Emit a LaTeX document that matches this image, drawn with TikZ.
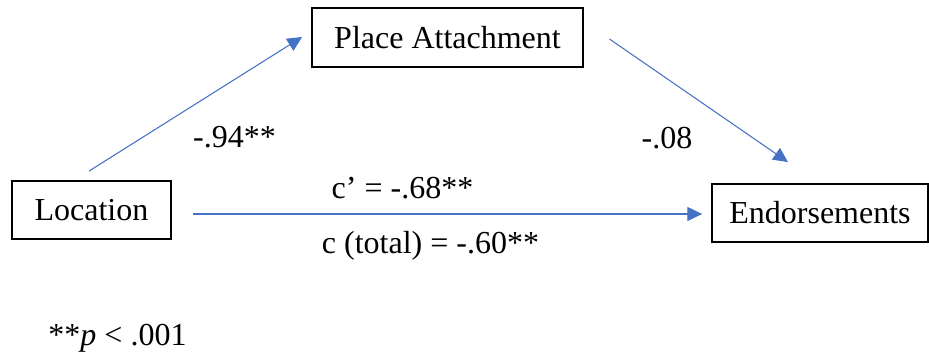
\documentclass[tikz,border=0pt]{standalone}
\usepackage{fontspec}
\setmainfont{Liberation Serif}
\usepackage{xcolor}
\usepackage{tikz}
\usetikzlibrary{arrows.meta,calc}
\definecolor{blu}{RGB}{68,114,196}

\begin{document}
\begin{tikzpicture}[x=0.75pt, y=-0.75pt, >={Triangle[length=11pt,width=10.5pt]},
  every node/.style={font=\fontsize{24}{29}\selectfont},
  box/.style={draw, line width=1.4pt, text height=15.8pt, text depth=0pt,
    inner sep=0pt, minimum height=43.5pt},
  effetto/.style={->, draw=blu, line width=0.8pt}]

% Bordo
\useasboundingbox (0,0) rectangle (929,358);

% Variabili
\node[box, minimum width=119.25pt] (loc) at (91.5,210) {Location};
\node[box, minimum width=203.25pt, minimum height=44.25pt] (place) at (447.5,37.5) {Place Attachment};
\node[box, minimum width=162pt] (endo) at (820,213) {Endorsements};

% Frecce
\draw[effetto] ($(loc.north)+(-2.5,-9)$) -- ($(place.west)+(-9,-0.5)$);
\draw[effetto] ($(place.east)+(25.5,1.5)$) -- ($(endo.north)+(-32,-21)$);
\draw[effetto] ($(loc.east)+(21,4)$) -- ($(endo.west)+(-9,1)$);

% Coefficienti
\node[anchor=base] (a) at (234.5,147) {-.94**};
\node[anchor=base] (b) at (667,148) {-.08};
\node[anchor=base] (cp) at (402.5,198) {c’ = -.68**};
\node[anchor=base] (c) at (430.5,253) {c (total) = -.60**};

% Nota
\node[anchor=base] (nota) at (117.5,345) {**\textit{p} < .001};

\end{tikzpicture}
\end{document}
